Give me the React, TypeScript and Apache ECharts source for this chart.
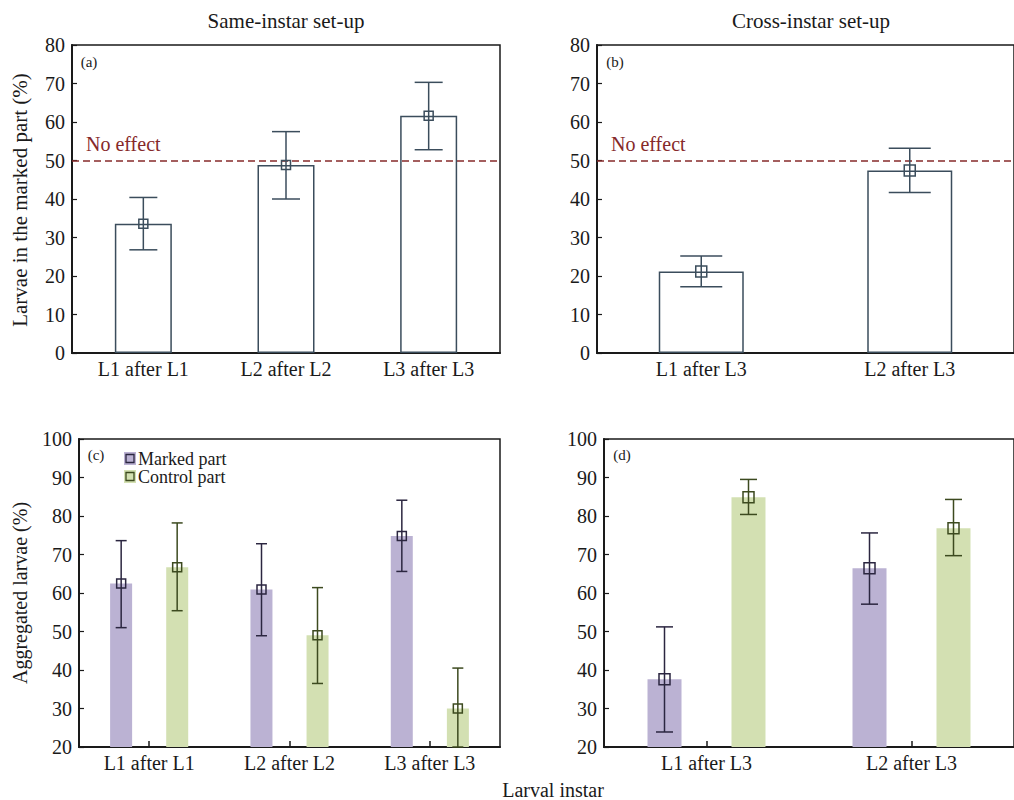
import React, { useEffect, useRef } from "react";
import * as echarts from "echarts";

// ---- Data ----
const catsSame = ["L1 after L1", "L2 after L2", "L3 after L3"];
const catsCross = ["L1 after L3", "L2 after L3"];

// (a) same-instar: larvae in marked part (%)
const meanA = [33.6, 48.8, 61.6];
const lowA = [26.8, 40.0, 52.8];
const highA = [40.4, 57.5, 70.3];

// (b) cross-instar
const meanB = [21.2, 47.4];
const lowB = [17.2, 41.7];
const highB = [25.2, 53.2];

// (c) same-instar aggregated larvae (%)
const markedC = [62.5, 60.9, 74.8];
const markedCLow = [51.0, 48.9, 65.6];
const markedCHigh = [73.6, 72.8, 84.1];
const controlC = [66.7, 49.0, 30.0];
const controlCLow = [55.4, 36.5, 20.0];
const controlCHigh = [78.2, 61.4, 40.5];

// (d) cross-instar aggregated larvae (%)
const markedD = [37.6, 66.4];
const markedDLow = [23.9, 57.1];
const markedDHigh = [51.2, 75.6];
const controlD = [84.9, 76.8];
const controlDLow = [80.4, 69.7];
const controlDHigh = [89.5, 84.3];

const noEffectLevel = 50;

// ---- Styles ----
const FONT = "'Liberation Serif', 'Times New Roman', serif";
const INK = "#1a1a1a";
const SLATE = "#3b4d5c";
const PURPLE = "#bbb2d3";
const GREEN = "#d3e0b2";
const PURPLE_INK = "#2b2640";
const GREEN_INK = "#3c4a1f";
const RED = "#862a2a";

function errData(mean: number[], low: number[], high: number[]) {
  return mean.map((m, i) => [i, m, low[i], high[i]]);
}

function errRender(offset: number, capW: number, box: number, color: string) {
  return (params: any, api: any) => {
    const x = api.value(0);
    const pm = api.coord([x, api.value(1)]);
    const pl = api.coord([x, api.value(2)]);
    const ph = api.coord([x, api.value(3)]);
    const cx = pm[0] + offset;
    const st = { stroke: color, lineWidth: 1.5, fill: null };
    return {
      type: "group",
      children: [
        { type: "line", shape: { x1: cx, y1: ph[1], x2: cx, y2: pl[1] }, style: st },
        { type: "line", shape: { x1: cx - capW / 2, y1: ph[1], x2: cx + capW / 2, y2: ph[1] }, style: st },
        { type: "line", shape: { x1: cx - capW / 2, y1: pl[1], x2: cx + capW / 2, y2: pl[1] }, style: st },
        {
          type: "rect",
          shape: { x: cx - box / 2, y: pm[1] - box / 2, width: box, height: box },
          style: { stroke: color, lineWidth: 1.5, fill: "none" },
        },
      ],
    };
  };
}

function errSeries(idx: number, data: number[][], offset: number, capW: number, box: number, color: string) {
  return {
    type: "custom",
    xAxisIndex: idx,
    yAxisIndex: idx,
    data,
    encode: { x: 0, y: [1, 2, 3] },
    renderItem: errRender(offset, capW, box, color),
    z: 5,
    silent: true,
  };
}

function xAxisCfg(idx: number, data: string[], ticks: boolean) {
  return {
    type: "category",
    gridIndex: idx,
    data,
    axisLine: { show: true, lineStyle: { color: INK, width: 2 } },
    axisTick: { show: ticks, inside: true, alignWithLabel: true, length: 6, lineStyle: { color: INK, width: 1.5 } },
    axisLabel: { fontFamily: FONT, fontSize: 20, color: INK, margin: 6 },
    splitLine: { show: false },
  };
}

function yAxisCfg(idx: number, min: number, max: number) {
  return {
    type: "value",
    gridIndex: idx,
    min,
    max,
    interval: 10,
    axisLine: { show: true, lineStyle: { color: INK, width: 2 } },
    axisTick: { show: true, inside: true, length: 5, lineStyle: { color: INK, width: 1.2 } },
    axisLabel: { fontFamily: FONT, fontSize: 20, color: INK, margin: 7 },
    splitLine: { show: false },
  };
}

const noEffectLine = {
  silent: true,
  symbol: "none",
  label: { show: false },
  lineStyle: { color: RED, type: [7, 4], width: 1.5 },
  data: [{ yAxis: noEffectLevel }],
};

function txt(text: string, x: number, y: number, size: number, extra: any = {}, rotation = 0) {
  return {
    type: "text",
    x,
    y,
    rotation,
    style: {
      text,
      fontFamily: FONT,
      fontSize: size,
      fill: INK,
      align: "center",
      verticalAlign: "middle",
      ...extra,
    },
    z: 100,
  };
}

export default function App() {
  const ref = useRef<HTMLDivElement>(null);

  useEffect(() => {
    if (!ref.current) return;
    const chart = echarts.init(ref.current, undefined, { renderer: "svg" });
    const gridStyle = { show: true, borderColor: INK, borderWidth: 1.5, backgroundColor: "transparent" };

    const option: any = {
      animation: false,
      grid: [
        { left: 72, top: 45, width: 428, height: 308, ...gridStyle },
        { left: 597, top: 45, width: 428, height: 308, ...gridStyle },
        { left: 79, top: 439, width: 421, height: 308, ...gridStyle },
        { left: 604, top: 439, width: 421, height: 308, ...gridStyle },
      ],
      xAxis: [
        xAxisCfg(0, catsSame, false),
        xAxisCfg(1, catsCross, false),
        xAxisCfg(2, catsSame, true),
        xAxisCfg(3, catsCross, true),
      ],
      yAxis: [yAxisCfg(0, 0, 80), yAxisCfg(1, 0, 80), yAxisCfg(2, 20, 100), yAxisCfg(3, 20, 100)],
      series: [
        // (a)
        {
          type: "bar",
          xAxisIndex: 0,
          yAxisIndex: 0,
          data: meanA,
          barWidth: 57,
          itemStyle: { color: "#ffffff", borderColor: SLATE, borderWidth: 1.5 },
          markLine: noEffectLine,
          silent: true,
        },
        errSeries(0, errData(meanA, lowA, highA), 0, 28, 9, SLATE),
        // (b)
        {
          type: "bar",
          xAxisIndex: 1,
          yAxisIndex: 1,
          data: meanB,
          barWidth: 85,
          itemStyle: { color: "#ffffff", borderColor: SLATE, borderWidth: 1.5 },
          markLine: noEffectLine,
          silent: true,
        },
        errSeries(1, errData(meanB, lowB, highB), 0, 42, 11, SLATE),
        // (c)
        {
          type: "bar",
          name: "Marked part",
          xAxisIndex: 2,
          yAxisIndex: 2,
          data: markedC,
          barWidth: 22,
          barGap: "155%",
          itemStyle: { color: PURPLE },
          silent: true,
        },
        {
          type: "bar",
          name: "Control part",
          xAxisIndex: 2,
          yAxisIndex: 2,
          data: controlC,
          barWidth: 22,
          barGap: "155%",
          itemStyle: { color: GREEN },
          silent: true,
        },
        errSeries(2, errData(markedC, markedCLow, markedCHigh), -28, 11, 9, PURPLE_INK),
        errSeries(2, errData(controlC, controlCLow, controlCHigh), 28, 11, 9, GREEN_INK),
        // (d)
        {
          type: "bar",
          name: "Marked part",
          xAxisIndex: 3,
          yAxisIndex: 3,
          data: markedD,
          barWidth: 34,
          barGap: "147%",
          itemStyle: { color: PURPLE },
          silent: true,
        },
        {
          type: "bar",
          name: "Control part",
          xAxisIndex: 3,
          yAxisIndex: 3,
          data: controlD,
          barWidth: 34,
          barGap: "147%",
          itemStyle: { color: GREEN },
          silent: true,
        },
        errSeries(3, errData(markedD, markedDLow, markedDHigh), -42, 17, 11, PURPLE_INK),
        errSeries(3, errData(controlD, controlDLow, controlDHigh), 42, 17, 11, GREEN_INK),
      ],
      graphic: [
        txt("Same-instar set-up", 286, 21, 21),
        txt("Cross-instar set-up", 811, 21, 21),
        txt("Larval instar", 553, 790, 20),
        txt("Larvae in the marked part (%)", 20, 200, 21, {}, Math.PI / 2),
        txt("Aggregated larvae (%)", 20, 593, 20, {}, Math.PI / 2),
        txt("(a)", 89, 62, 15),
        txt("(b)", 615, 62, 15),
        txt("(c)", 96, 455, 15),
        txt("(d)", 622, 455, 15),
        txt("No effect", 86, 144, 20, { align: "left", fill: RED }),
        txt("No effect", 611, 144, 20, { align: "left", fill: RED }),
        // legend (c)
        { type: "rect", shape: { x: 124, y: 452, width: 12, height: 13 }, style: { fill: PURPLE }, z: 100 },
        { type: "rect", shape: { x: 126, y: 454.5, width: 8, height: 8 }, style: { fill: "none", stroke: PURPLE_INK, lineWidth: 1.3 }, z: 101 },
        { type: "rect", shape: { x: 124, y: 470, width: 12, height: 13 }, style: { fill: GREEN }, z: 100 },
        { type: "rect", shape: { x: 126, y: 472.5, width: 8, height: 8 }, style: { fill: "none", stroke: GREEN_INK, lineWidth: 1.3 }, z: 101 },
        txt("Marked part", 138, 459, 18, { align: "left" }),
        txt("Control part", 138, 477, 18, { align: "left" }),
      ],
    };

    chart.setOption(option);
    return () => chart.dispose();
  }, []);

  return (
    <div
      ref={ref}
      style={{ position: "absolute", left: 0, top: 0, width: 1014, height: 800, background: "#ffffff" }}
    />
  );
}
